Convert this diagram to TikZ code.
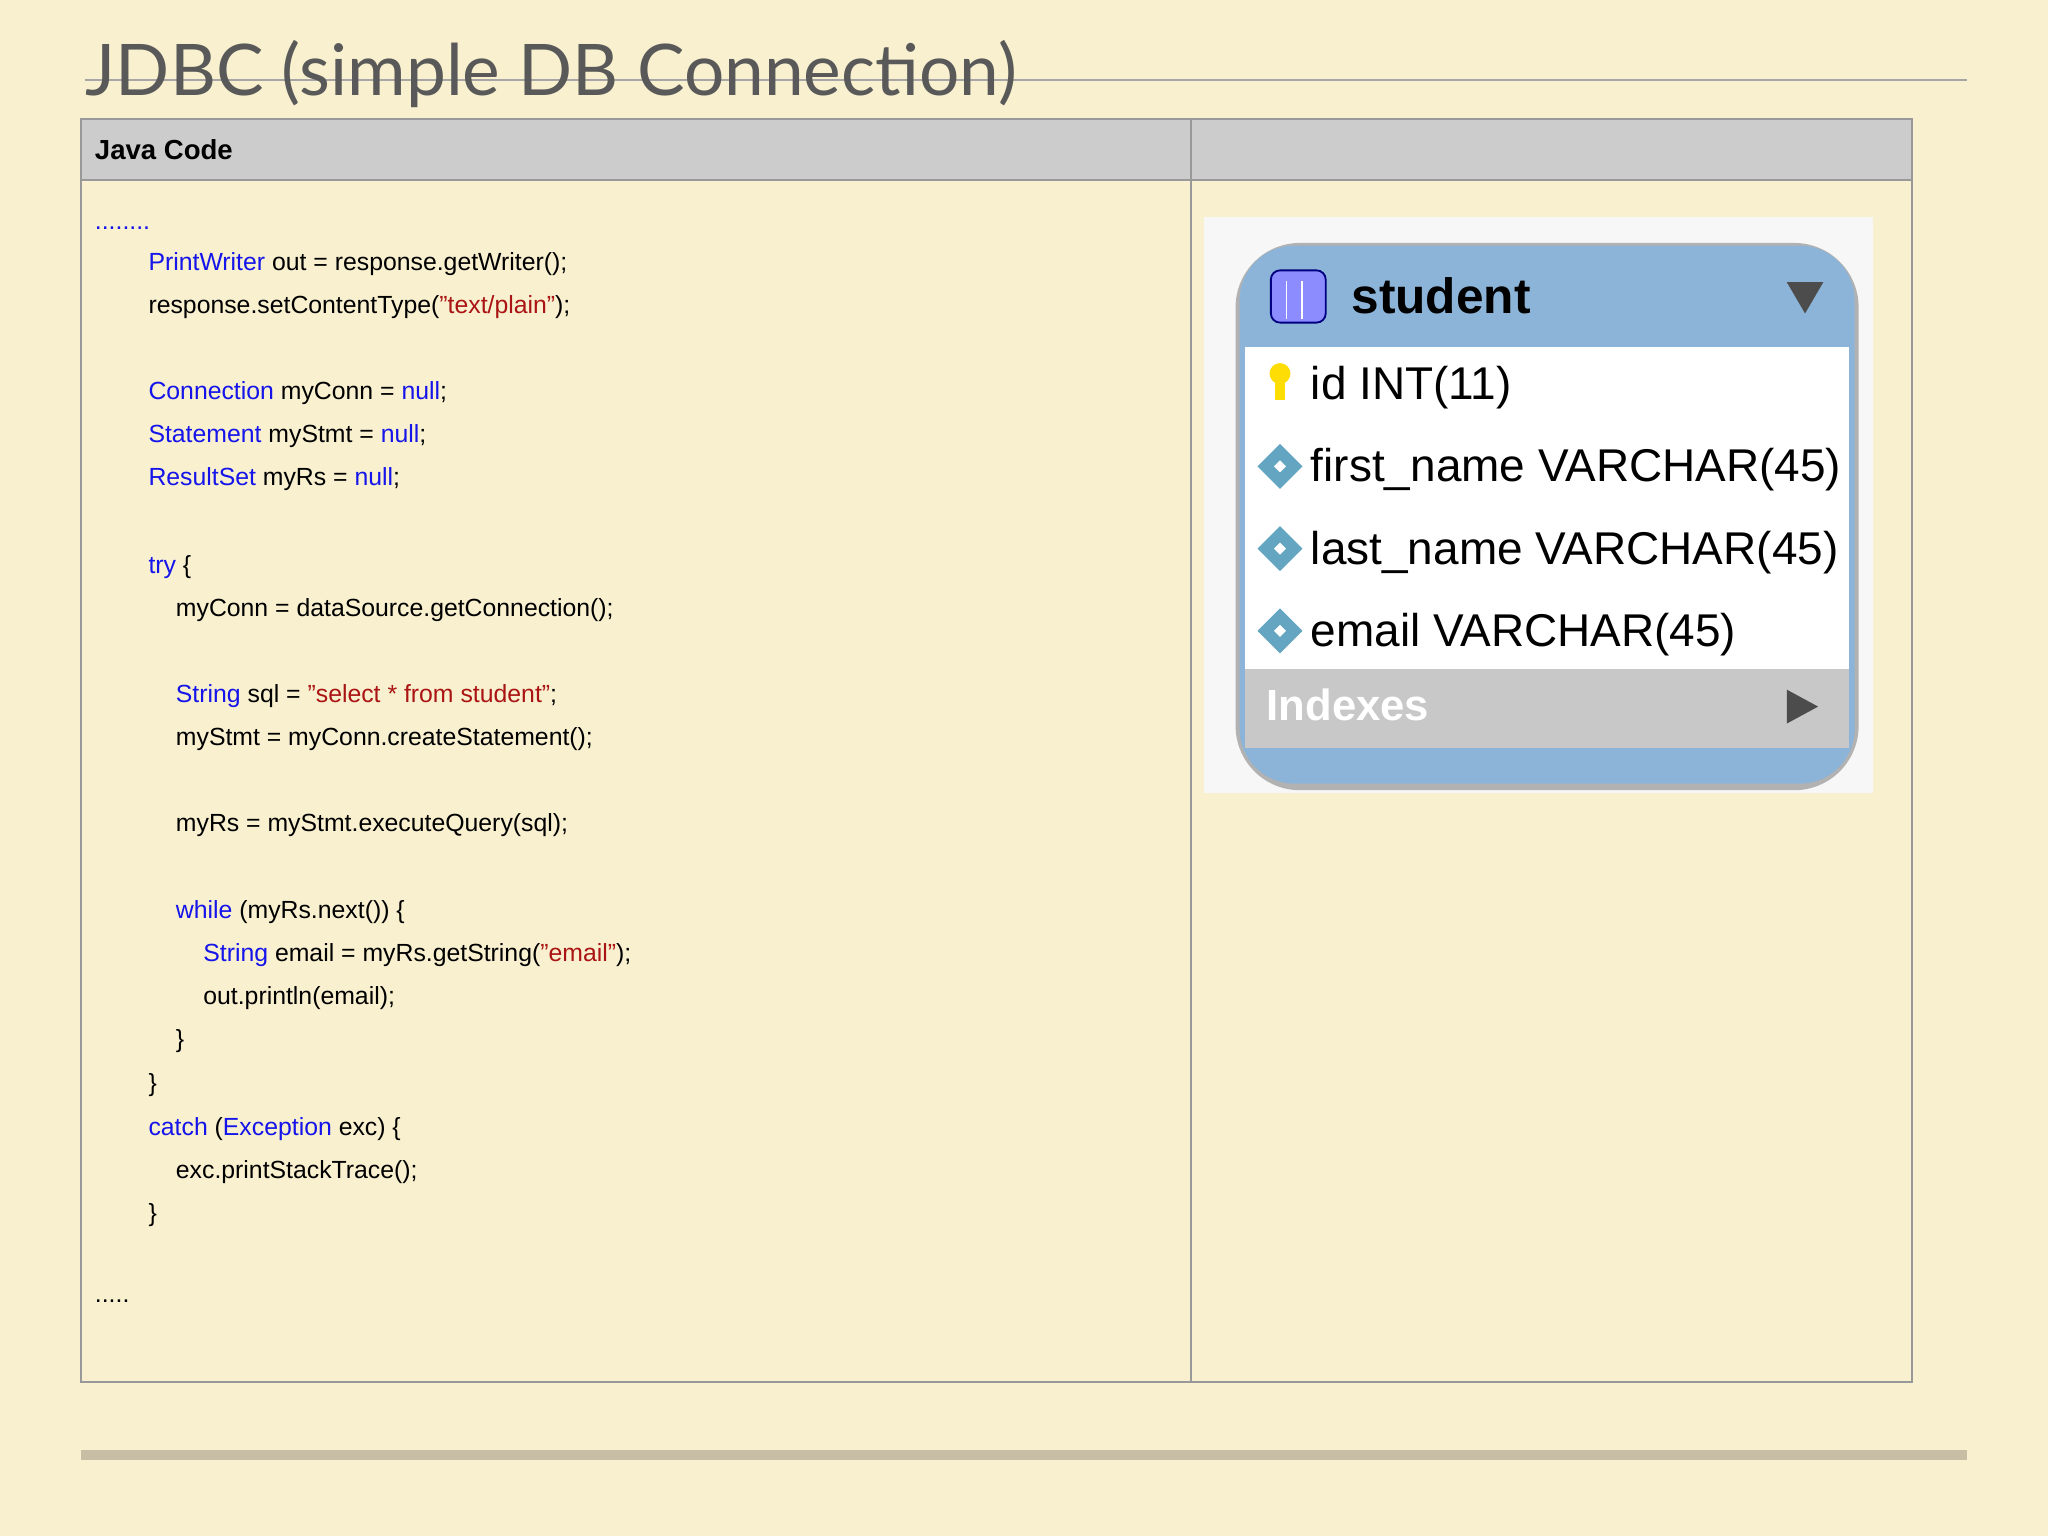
\documentclass[tikz,border=0pt]{standalone}
\usepackage{fontspec}
\setmainfont{Liberation Sans}
\newfontfamily\titlefont{Lato}
\usetikzlibrary{positioning}
\definecolor{paper}{RGB}{248,240,206}
\definecolor{kw}{RGB}{20,20,235}
\definecolor{str}{RGB}{170,20,20}
\definecolor{hdr}{RGB}{204,204,204}
\definecolor{erblue}{RGB}{140,180,216}
\definecolor{ergray}{RGB}{200,200,200}
\definecolor{bar}{RGB}{200,190,165}
\tikzset{code/.style = {anchor=base west, inner sep=0pt, font=\fontsize{5.4}{6}\selectfont},
         col/.style = {anchor=base west, inner sep=0pt, font=\fontsize{10}{11}\selectfont}}
\newcommand{\kw}[1]{\textcolor{kw}{#1}}
\newcommand{\st}[1]{\textcolor{str}{#1}}
\begin{document}
\begin{tikzpicture}[x=0.01cm,y=-0.01cm]
                \fill[paper] (0,0) rectangle (1568,1176);
                \useasboundingbox (0,0) rectangle (1568,1176);

                % title
                \draw[gray!70] (65,61) -- (1506,61);
                \node[anchor=base west, inner sep=0pt, text=black!65, font=\titlefont\fontsize{15.5}{16}\selectfont] (title) at (65,73) {JDBC (simple DB Connection)};

                % table
                \fill[hdr] (62,91) rectangle (1464,138);
                \draw[gray!80] (62,91) rectangle (1464,1058);
                \draw[gray!80] (62,138) -- (1464,138);
                \draw[gray!80] (912,91) -- (912,1058);
                \node[code, font=\fontsize{6}{7}\selectfont\bfseries] (head) at (72,122) {Java Code};

                % code
                \node[code] (c1) at (72,176) {\kw{........}};
                \node[code] (c2) at (113,207) {\kw{PrintWriter} out = response.getWriter();};
                \node[code] (c3) at (113,240) {response.setContentType(\st{"text/plain"});};
                \node[code] (c4) at (113,306) {\kw{Connection} myConn = \kw{null};};
                \node[code] (c5) at (113,339) {\kw{Statement} myStmt = \kw{null};};
                \node[code] (c6) at (113,372) {\kw{ResultSet} myRs = \kw{null};};
                \node[code] (c7) at (113,439) {\kw{try} \{};
                \node[code] (c8) at (134,472) {myConn = dataSource.getConnection();};
                \node[code] (c9) at (134,538) {\kw{String} sql = \st{"select * from student"};};
                \node[code] (c10) at (134,571) {myStmt = myConn.createStatement();};
                \node[code] (c11) at (134,637) {myRs = myStmt.executeQuery(sql);};
                \node[code] (c12) at (134,703) {\kw{while} (myRs.next()) \{};
                \node[code] (c13) at (155,736) {\kw{String} email = myRs.getString(\st{"email"});};
                \node[code] (c14) at (155,769) {out.println(email);};
                \node[code] (c15) at (134,802) {\}};
                \node[code] (c16) at (113,836) {\}};
                \node[code] (c17) at (113,869) {\kw{catch} (\kw{Exception} exc) \{};
                \node[code] (c18) at (134,902) {exc.printStackTrace();};
                \node[code] (c19) at (113,935) {\}};
                \node[code] (c20) at (72,997) {.....};

                % student table
                \fill[white!94!gray] (922,166) rectangle (1434,607);
                \fill[gray!60, rounded corners=14] (946,186) rectangle (1423,605);
                \fill[erblue, rounded corners=12] (949,188) rectangle (1420,600);
                \fill[white] (953,266) rectangle (1416,512);
                \fill[ergray] (953,512) rectangle (1416,573);
                \fill[blue!45!white, draw=blue!50!black, rounded corners=2] (973,207) rectangle (1015,247);
                \foreach \x in {985,997} \draw[white] (\x,215) -- (\x,244);
                \node[anchor=base west, inner sep=0pt, font=\fontsize{10.8}{12}\selectfont\bfseries] (tname) at (1034,240) {student};
                \fill[black!70] (1368,216) -- (1396,216) -- (1382,240) -- cycle;
                \fill[yellow!80!orange] (980,286) circle (8);
                \fill[yellow!80!orange] (976,290) rectangle (984,306);
                \node[col] (r1) at (1003,306) {id INT(11)};
                \node[col] (r2) at (1003,369) {first\_name VARCHAR(45)};
                \node[col] (r3) at (1003,432) {last\_name VARCHAR(45)};
                \node[col] (r4) at (1003,495) {email VARCHAR(45)};
                \foreach \y in {357,420,483}
                  \draw[cyan!50!gray, line width=2.5pt] (969,\y) -- (980,\y-11) -- (991,\y) -- (980,\y+11) -- cycle;
                \node[anchor=base west, inner sep=0pt, text=white, font=\fontsize{9.5}{11}\selectfont\bfseries] (idx) at (969,552) {Indexes};
                \fill[black!70] (1368,528) -- (1392,541) -- (1368,554) -- cycle;

                % bottom bar
                \fill[bar] (62,1110) rectangle (1506,1118);
\end{tikzpicture}
\end{document}
